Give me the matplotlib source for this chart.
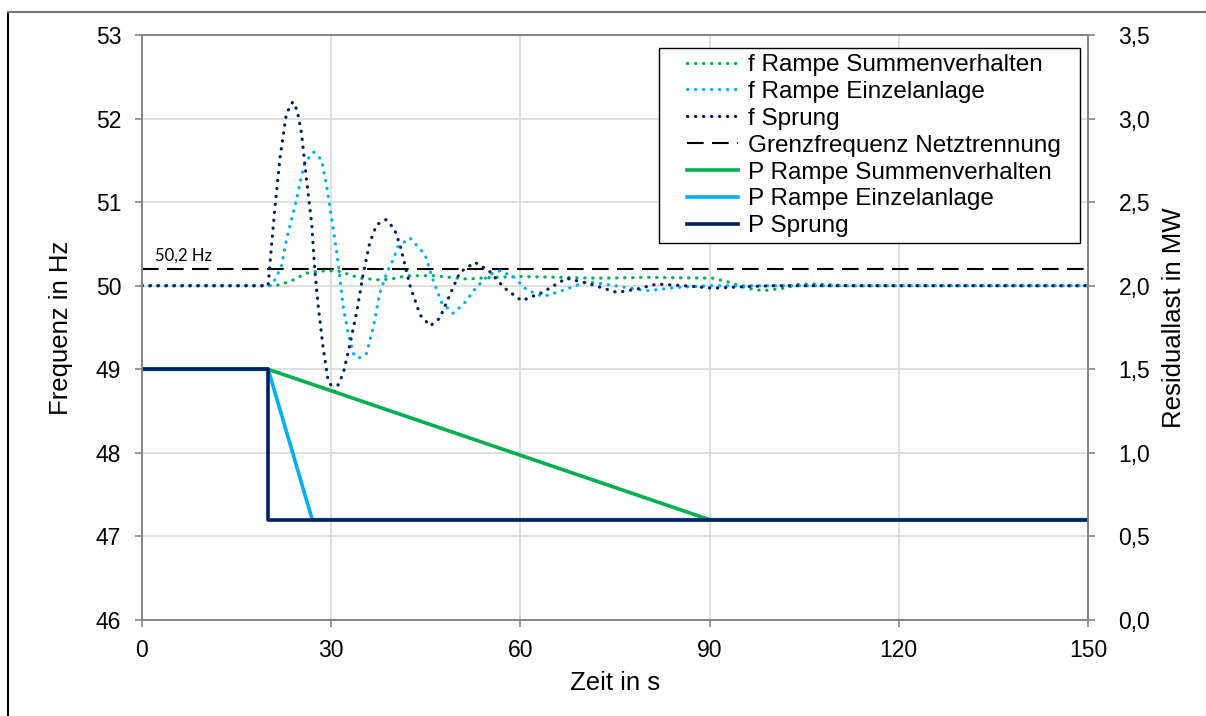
import matplotlib
matplotlib.use("Agg")
import matplotlib.pyplot as plt
from matplotlib.lines import Line2D
from matplotlib.legend_handler import HandlerLine2D
from matplotlib.ticker import FuncFormatter

plt.rcParams['font.family'] = ['Liberation Sans', 'DejaVu Sans']

# ---------------- data ----------------
# f Sprung (Hz)
t_f_sprung = [0, 20, 20.5, 21.1, 21.9, 22.9, 23.9, 24.6, 25.3, 26.1, 26.9, 27.4, 27.95, 28.7, 29.5,
              30.6, 31.9, 33.0, 34.0, 35.1, 36.1, 37.2, 38.7, 40.0, 40.9, 42.5, 44.1, 45.7, 47.2,
              48.8, 50.4, 52.8, 55.0, 57.5, 60.2, 63.5, 67.3, 71.0, 75.3, 78.5, 81.6, 86.0, 90.5,
              96.0, 100, 150]
f_sprung = [50.0, 50.0, 50.45, 50.95, 51.54, 52.06, 52.20, 52.10, 51.82, 51.26, 50.75, 50.19, 49.75,
            49.27, 48.87, 48.73, 48.95, 49.31, 49.67, 50.15, 50.51, 50.73, 50.79, 50.68, 50.49,
            50.0, 49.65, 49.52, 49.61, 49.89, 50.16, 50.28, 50.18, 49.97, 49.82, 49.92, 50.09,
            50.02, 49.92, 49.96, 50.02, 50.0, 49.97, 49.99, 50.0, 50.0]

# f Rampe Einzelanlage (Hz)
t_f_einzel = [0, 20.5, 20.8, 22.1, 22.9, 23.7, 24.5, 25.05, 25.8, 27.2, 28.5, 29.3, 30.1, 30.9,
              31.4, 31.9, 32.7, 33.5, 34.3, 35.6, 36.7, 37.7, 38.8, 39.8, 40.6, 42.5, 44.9, 46.0,
              47.5, 49.3, 51.0, 53.0, 55.0, 56.8, 59.0, 61.0, 63.6, 67.0, 70.5, 75.0, 80.0, 85.0,
              90.0, 150]
f_einzel = [50.0, 50.0, 50.03, 50.23, 50.55, 50.79, 51.03, 51.23, 51.47, 51.60, 51.50, 51.18, 50.79,
            50.39, 50.07, 49.75, 49.43, 49.19, 49.13, 49.19, 49.51, 49.91, 50.15, 50.31, 50.47,
            50.57, 50.37, 50.10, 49.80, 49.67, 49.78, 49.98, 50.13, 50.18, 50.10, 49.95, 49.87,
            49.95, 50.05, 50.00, 49.94, 49.98, 50.0, 50.0]

# f Rampe Summenverhalten (Hz)
t_f_summe = [0, 20, 21.9, 24.0, 26.1, 27.7, 29.5, 31.4, 34.6, 37.7, 39.5, 42.0, 46.2, 51.5, 55.7,
             60.0, 72.6, 80.0, 90.5, 93.2, 95.9, 98.5, 101.7, 104.3, 107.0, 112.0, 150]
f_summe = [50.0, 50.0, 50.01, 50.07, 50.15, 50.17, 50.18, 50.17, 50.09, 50.07, 50.08, 50.12, 50.12,
           50.08, 50.10, 50.11, 50.09, 50.10, 50.09, 50.04, 49.97, 49.94, 49.97, 50.02, 50.02,
           50.0, 50.0]

# Grenzfrequenz Netztrennung
t_grenz = [0, 150]
f_grenz = [50.2, 50.2]

# Residuallast (MW)
t_p_summe = [0, 20, 90, 150]
p_summe = [1.5, 1.5, 0.6, 0.6]
t_p_einzel = [0, 20, 27, 150]
p_einzel = [1.5, 1.5, 0.6, 0.6]
t_p_sprung = [0, 20, 20, 150]
p_sprung = [1.5, 1.5, 0.6, 0.6]

x_ticks = [0, 30, 60, 90, 120, 150]
f_ticks = [46, 47, 48, 49, 50, 51, 52, 53]
p_ticks = [0.0, 0.5, 1.0, 1.5, 2.0, 2.5, 3.0, 3.5]

C_GREEN = '#00B050'
C_LBLUE = '#00B0F0'
C_NAVY = '#002060'
GRID = '#D9D9D9'
SPINE = '#868686'

# ---------------- figure ----------------
W, H = 1206, 716
fig = plt.figure(figsize=(W / 100, H / 100), dpi=100)
ax = fig.add_axes([142 / W, 1 - 620 / H, (1088 - 142) / W, (620 - 35) / H])
ax2 = ax.twinx()

dot = dict(linestyle=(0, (0.1, 2.4)), dash_capstyle='round', lw=2.3)

ax.set_xlim(0, 150)
ax.set_ylim(46, 53)
ax2.set_ylim(0, 3.5)

ax.set_xticks(x_ticks)
ax.set_yticks(f_ticks)
ax2.set_yticks(p_ticks)
ax.grid(True, color=GRID, lw=1.2)
ax.set_axisbelow(True)

l_grenz, = ax.plot(t_grenz, f_grenz, color='black', lw=1.5, linestyle=(0, (8, 4)),
                   label='Grenzfrequenz Netztrennung')
l_fsum, = ax.plot(t_f_summe, f_summe, color=C_GREEN, label='f Rampe Summenverhalten', **dot)
l_fein, = ax.plot(t_f_einzel, f_einzel, color=C_LBLUE, label='f Rampe Einzelanlage', **dot)
l_fspr, = ax.plot(t_f_sprung, f_sprung, color=C_NAVY, label='f Sprung', **dot)

l_psum, = ax2.plot(t_p_summe, p_summe, color=C_GREEN, lw=2.6, label='P Rampe Summenverhalten')
l_pein, = ax2.plot(t_p_einzel, p_einzel, color=C_LBLUE, lw=2.6, label='P Rampe Einzelanlage')
l_pspr, = ax2.plot(t_p_sprung, p_sprung, color=C_NAVY, lw=2.6, label='P Sprung')

ax.text(2, 50.2 + 0.06, '50,2 Hz', fontsize=12, family=['Lato', 'DejaVu Sans'],
        ha='left', va='bottom')

comma = FuncFormatter(lambda v, p: ('%.1f' % v).replace('.', ','))
ax2.yaxis.set_major_formatter(comma)

for a in (ax, ax2):
    for s in a.spines.values():
        s.set_color(SPINE)
        s.set_linewidth(1.3)
    a.tick_params(colors=SPINE, labelcolor='black', labelsize=16.5, length=5, width=1.2,
                  direction='out')
ax.tick_params(axis='y', pad=10)
ax.tick_params(axis='x', pad=9)
ax2.tick_params(axis='y', pad=17)
ax.spines['top'].set_color('#888888')

ax.set_xlabel('Zeit in s', fontsize=18.5, labelpad=6)
ax.set_ylabel('Frequenz in Hz', fontsize=18.5, labelpad=16)
ax2.set_ylabel('Residuallast in MW', fontsize=18.5)
ax2.yaxis.set_label_coords((1162 - 142) / (1088 - 142), 0.516)

handles = [l_fsum, l_fein, l_fspr, l_grenz, l_psum, l_pein, l_pspr]
FS = 17.5
leg = ax2.legend(handles=handles, loc='upper right',
                 bbox_to_anchor=(1080 / W, 1 - 48 / H), bbox_transform=fig.transFigure,
                 borderaxespad=0, fontsize=FS, frameon=True, fancybox=False,
                 labelspacing=0.2, handlelength=3.0, handletextpad=0.4,
                 borderpad=0.25, framealpha=1,
                 handler_map={Line2D: HandlerLine2D(xpad=0.9)})
leg.get_frame().set_edgecolor('black')
leg.get_frame().set_linewidth(1.0)
for t in leg.get_texts():
    t.set_text(t.get_text() + '  ')

# outer chart border (Excel style)
fig.add_artist(Line2D([8 / W, 8 / W], [0, 1 - 12 / H], transform=fig.transFigure,
                      color='black', lw=1.5))
fig.add_artist(Line2D([8 / W, 1], [1 - 12 / H, 1 - 12 / H], transform=fig.transFigure,
                      color='#777777', lw=1.5))

fig.savefig('out.png', dpi=100)
